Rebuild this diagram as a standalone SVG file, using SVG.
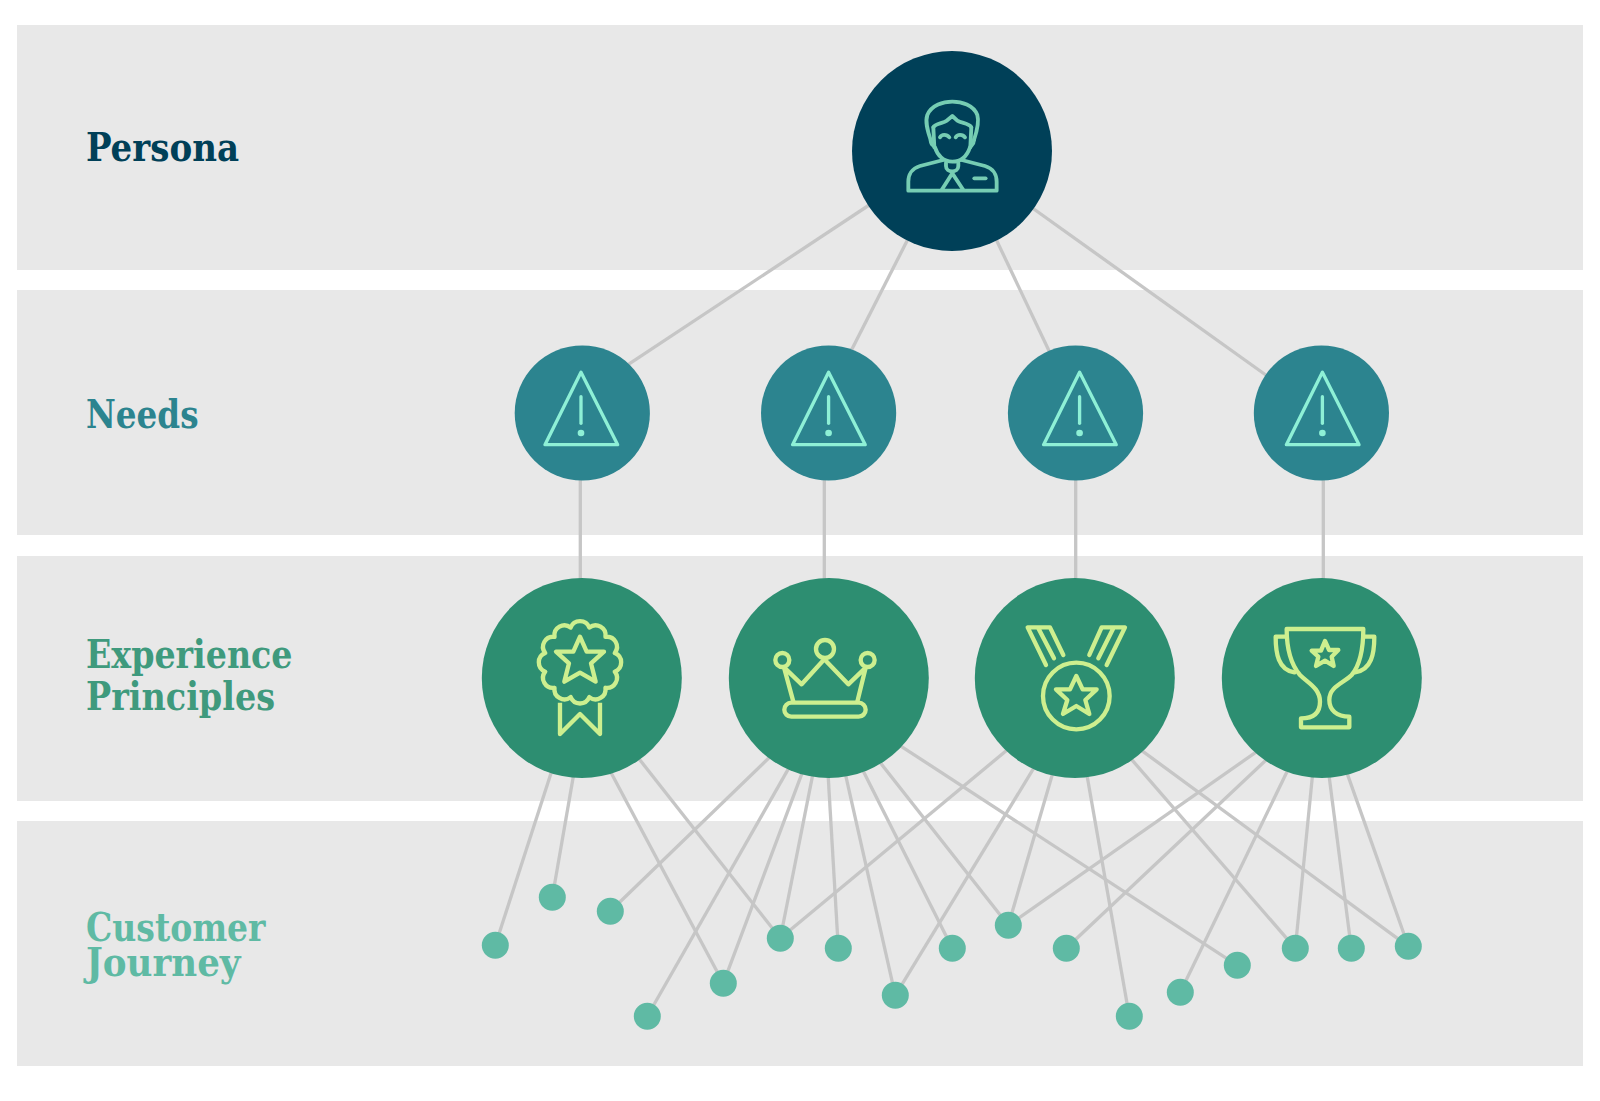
<svg xmlns="http://www.w3.org/2000/svg" xmlns:xlink="http://www.w3.org/1999/xlink" width="1600" height="1101" viewBox="0 0 1600 1101">
<style>
.band{fill:#e8e8e8}
.lbl{font-family:"DejaVu Serif Condensed","DejaVu Serif",serif;font-weight:700;font-size:39px}
#connectors line{stroke:#c6c6c6;stroke-width:3.3;fill:none}
.persona{fill:#004058}.need{fill:#2c848f}.exp{fill:#2d8e71}.dot{fill:#5fbaa4}
.ic{fill:none;stroke-linecap:round;stroke-linejoin:round}
.ip{stroke:#76cdb3;stroke-width:11.5}
.in{stroke:#8ef0d6;stroke-width:10}
.ie{stroke:#cdef8f;stroke-width:13}
</style>
<defs>
<g id="warn" class="ic in"><path d="M243,97 L353,314 H135 Z"/><path d="M243,170 V250"/><circle cx="243" cy="279" r="10" fill="#8ef0d6" stroke="none"/></g>
</defs>
<rect width="1600" height="1101" fill="#fff"/>
<g id="bands">
<rect class="band" x="17" y="25" width="1566" height="245"/>
<rect class="band" x="17" y="290" width="1566" height="245"/>
<rect class="band" x="17" y="556" width="1566" height="245"/>
<rect class="band" x="17" y="821" width="1566" height="245"/>
</g>
<g id="labels">
<text class="lbl" fill="#004058" x="86" y="160.8" textLength="153" lengthAdjust="spacingAndGlyphs">Persona</text>
<text class="lbl" fill="#2c848f" x="86" y="427.8" textLength="112.5" lengthAdjust="spacingAndGlyphs">Needs</text>
<text class="lbl" fill="#3f9a7d" x="86" y="667.8" textLength="206.5" lengthAdjust="spacingAndGlyphs">Experience</text>
<text class="lbl" fill="#3f9a7d" x="86" y="710.2" textLength="189" lengthAdjust="spacingAndGlyphs">Principles</text>
<text class="lbl" fill="#5fbaa4" x="86" y="940.5" textLength="179.5" lengthAdjust="spacingAndGlyphs">Customer</text>
<text class="lbl" fill="#5fbaa4" x="86" y="976.2" textLength="154.5" lengthAdjust="spacingAndGlyphs">Journey</text>
</g>
<g id="connectors">
<line x1="870" y1="204.5" x2="625" y2="366.6"/>
<line x1="909" y1="237" x2="850" y2="353"/>
<line x1="995" y1="237" x2="1051" y2="355"/>
<line x1="1031" y1="207" x2="1270" y2="378"/>
<line x1="580.3" y1="470" x2="580.3" y2="590"/>
<line x1="824.3" y1="470" x2="824.3" y2="590"/>
<line x1="1075.7" y1="470" x2="1075.7" y2="590"/>
<line x1="1323.3" y1="470" x2="1323.3" y2="590"/>
<line x1="552.7" y1="768.1" x2="495.3" y2="945.3"/>
<line x1="573.9" y1="773.1" x2="552.3" y2="897.3"/>
<line x1="608.4" y1="767.7" x2="723.3" y2="983.3"/>
<line x1="635.8" y1="754.7" x2="780.3" y2="938.3"/>
<line x1="771.4" y1="755.5" x2="610.3" y2="911.3"/>
<line x1="791.9" y1="762.6" x2="647.3" y2="1016.3"/>
<line x1="804.1" y1="767.7" x2="723.3" y2="983.3"/>
<line x1="813.3" y1="771.9" x2="780.3" y2="938.3"/>
<line x1="828" y1="773.2" x2="838.3" y2="948.3"/>
<line x1="844.5" y1="770.1" x2="895.3" y2="995.3"/>
<line x1="861.7" y1="768" x2="952.3" y2="948.3"/>
<line x1="876.9" y1="758.4" x2="1008.3" y2="925.3"/>
<line x1="895" y1="742.3" x2="1237.3" y2="965.3"/>
<line x1="1009.5" y1="748" x2="780.3" y2="938.3"/>
<line x1="1036.8" y1="763.2" x2="895.3" y2="995.3"/>
<line x1="1053" y1="772.2" x2="1008.3" y2="925.3"/>
<line x1="1086.5" y1="772.5" x2="1129.3" y2="1016.3"/>
<line x1="1127.8" y1="755.1" x2="1295.3" y2="948.3"/>
<line x1="1138" y1="747.8" x2="1408.3" y2="946.3"/>
<line x1="1259.2" y1="749.9" x2="1008.3" y2="925.3"/>
<line x1="1270.2" y1="756.1" x2="1066.3" y2="948.3"/>
<line x1="1289.9" y1="765.7" x2="1180.3" y2="992.3"/>
<line x1="1312.8" y1="772.2" x2="1295.3" y2="948.3"/>
<line x1="1328.6" y1="772.2" x2="1351.3" y2="948.3"/>
<line x1="1345.9" y1="769.9" x2="1408.3" y2="946.3"/>
</g>
<g id="persona-node">
<circle class="persona" cx="952" cy="151" r="100"/>
<g class="ic ip" transform="translate(840,40) scale(.3333)">
<path d="M272,300 C262,270 255,245 262,225 C275,195 310,185 337,185 C365,185 400,195 412,225 C418,245 412,270 402,300"/>
<path d="M280,262 C285,250 310,250 320,242 L337,228 L352,242 C365,250 388,250 394,262"/>
<path d="M280,262 L283,322 M394,262 L391,322"/>
<path d="M272,300 C272,315 280,315 285,322 C292,345 310,365 337,365 C365,365 382,345 390,322 C395,315 402,312 402,300"/>
<path d="M300,292 C305,282 320,282 328,292 M347,292 C352,282 368,282 375,292"/>
<path d="M310,360 L240,378 C215,385 205,405 205,425 V452 H470 V425 C470,405 460,385 435,378 L365,360"/>
<path d="M318,368 V378 C318,400 355,400 355,378 V368"/>
<path d="M337,400 L305,450 M337,400 L370,450"/>
<path d="M403,415 H437"/>
</g>
</g>
<g id="need-1"><circle class="need" cx="582.3" cy="413" r="67.6"/><use xlink:href="#warn" href="#warn" transform="translate(500,340) scale(.3333)"/></g>
<g id="need-2"><circle class="need" cx="828.6" cy="413" r="67.6"/><use xlink:href="#warn" href="#warn" transform="translate(747.6,340) scale(.3333)"/></g>
<g id="need-3"><circle class="need" cx="1075.5" cy="413" r="67.6"/><use xlink:href="#warn" href="#warn" transform="translate(998.6,340) scale(.3333)"/></g>
<g id="need-4"><circle class="need" cx="1321.4" cy="413" r="67.6"/><use xlink:href="#warn" href="#warn" transform="translate(1241.4,340) scale(.3333)"/></g>
<g id="principle-1"><circle class="exp" cx="581.8" cy="678" r="100"/>
<g class="ic ie" transform="translate(480,570) scale(.3333)">
<path d="M328,172.7 A30,30 0 0 1 376.4,200.6 A30,30 0 0 1 404.3,249 A30,30 0 0 1 404.3,305 A30,30 0 0 1 376.4,353.4 A30,30 0 0 1 328,381.3 A30,30 0 0 1 272,381.3 A30,30 0 0 1 223.6,353.4 A30,30 0 0 1 195.7,305 A30,30 0 0 1 195.7,249 A30,30 0 0 1 223.6,200.6 A30,30 0 0 1 272,172.7 A30,30 0 0 1 328,172.7 Z"/>
<path d="M300,200 L320,245 H372 L333,280 L347,335 L300,308 L253,335 L267,280 L228,245 H280 Z"/>
<path d="M240,398 V492 L300,432 L360,492 V398" stroke-linecap="butt"/>
</g></g>
<g id="principle-2"><circle class="exp" cx="828.8" cy="678" r="100"/>
<g class="ic ie" transform="translate(725,570) scale(.3333)">
<circle cx="300" cy="237" r="27"/><circle cx="172" cy="270" r="21"/><circle cx="428" cy="270" r="21"/>
<path d="M177,292 L205,395 M178,293 L230,343 L298,268 L370,343 L422,293 L397,395"/>
<rect x="178" y="398" width="244" height="42" rx="21"/>
</g></g>
<g id="principle-3"><circle class="exp" cx="1074.8" cy="678" r="100"/>
<g class="ic ie" transform="translate(970,570) scale(.3333)">
<circle cx="319" cy="378" r="100"/>
<path d="M319,318 L338,358 H380 L346,390 L358,432 L319,408 L279,432 L292,390 L258,358 H300 Z"/>
<path d="M228,285 L173,172 H240 L280,255 M252,265 L205,175"/>
<path d="M410,285 L465,172 H395 L358,255 M385,265 L430,175"/>
</g></g>
<g id="principle-4"><circle class="exp" cx="1321.8" cy="678" r="100"/>
<g class="ic ie" transform="translate(1215,570) scale(.3333)">
<path d="M215,177 H445 C445,235 435,285 410,315 C385,340 343,350 343,390 C343,420 365,440 403,440 V472 H258 V445 C300,445 315,425 315,395 C315,355 280,340 255,315 C225,280 215,235 215,177 Z"/>
<path d="M215,200 H182 C182,250 190,300 238,307 M445,200 H478 C478,250 470,300 420,307"/>
<path d="M330,213 L342,240 H370 L350,260 L356,288 L330,272 L303,288 L310,260 L290,242 H318 Z"/>
</g></g>
<g id="journey-dots">
<circle id="touch-1" class="dot" cx="495.3" cy="945.3" r="13.5"/>
<circle id="touch-2" class="dot" cx="552.3" cy="897.3" r="13.5"/>
<circle id="touch-3" class="dot" cx="610.3" cy="911.3" r="13.5"/>
<circle id="touch-4" class="dot" cx="647.3" cy="1016.3" r="13.5"/>
<circle id="touch-5" class="dot" cx="723.3" cy="983.3" r="13.5"/>
<circle id="touch-6" class="dot" cx="780.3" cy="938.3" r="13.5"/>
<circle id="touch-7" class="dot" cx="838.3" cy="948.3" r="13.5"/>
<circle id="touch-8" class="dot" cx="895.3" cy="995.3" r="13.5"/>
<circle id="touch-9" class="dot" cx="952.3" cy="948.3" r="13.5"/>
<circle id="touch-10" class="dot" cx="1008.3" cy="925.3" r="13.5"/>
<circle id="touch-11" class="dot" cx="1066.3" cy="948.3" r="13.5"/>
<circle id="touch-12" class="dot" cx="1129.3" cy="1016.3" r="13.5"/>
<circle id="touch-13" class="dot" cx="1180.3" cy="992.3" r="13.5"/>
<circle id="touch-14" class="dot" cx="1237.3" cy="965.3" r="13.5"/>
<circle id="touch-15" class="dot" cx="1295.3" cy="948.3" r="13.5"/>
<circle id="touch-16" class="dot" cx="1351.3" cy="948.3" r="13.5"/>
<circle id="touch-17" class="dot" cx="1408.3" cy="946.3" r="13.5"/>
</g>
</svg>
